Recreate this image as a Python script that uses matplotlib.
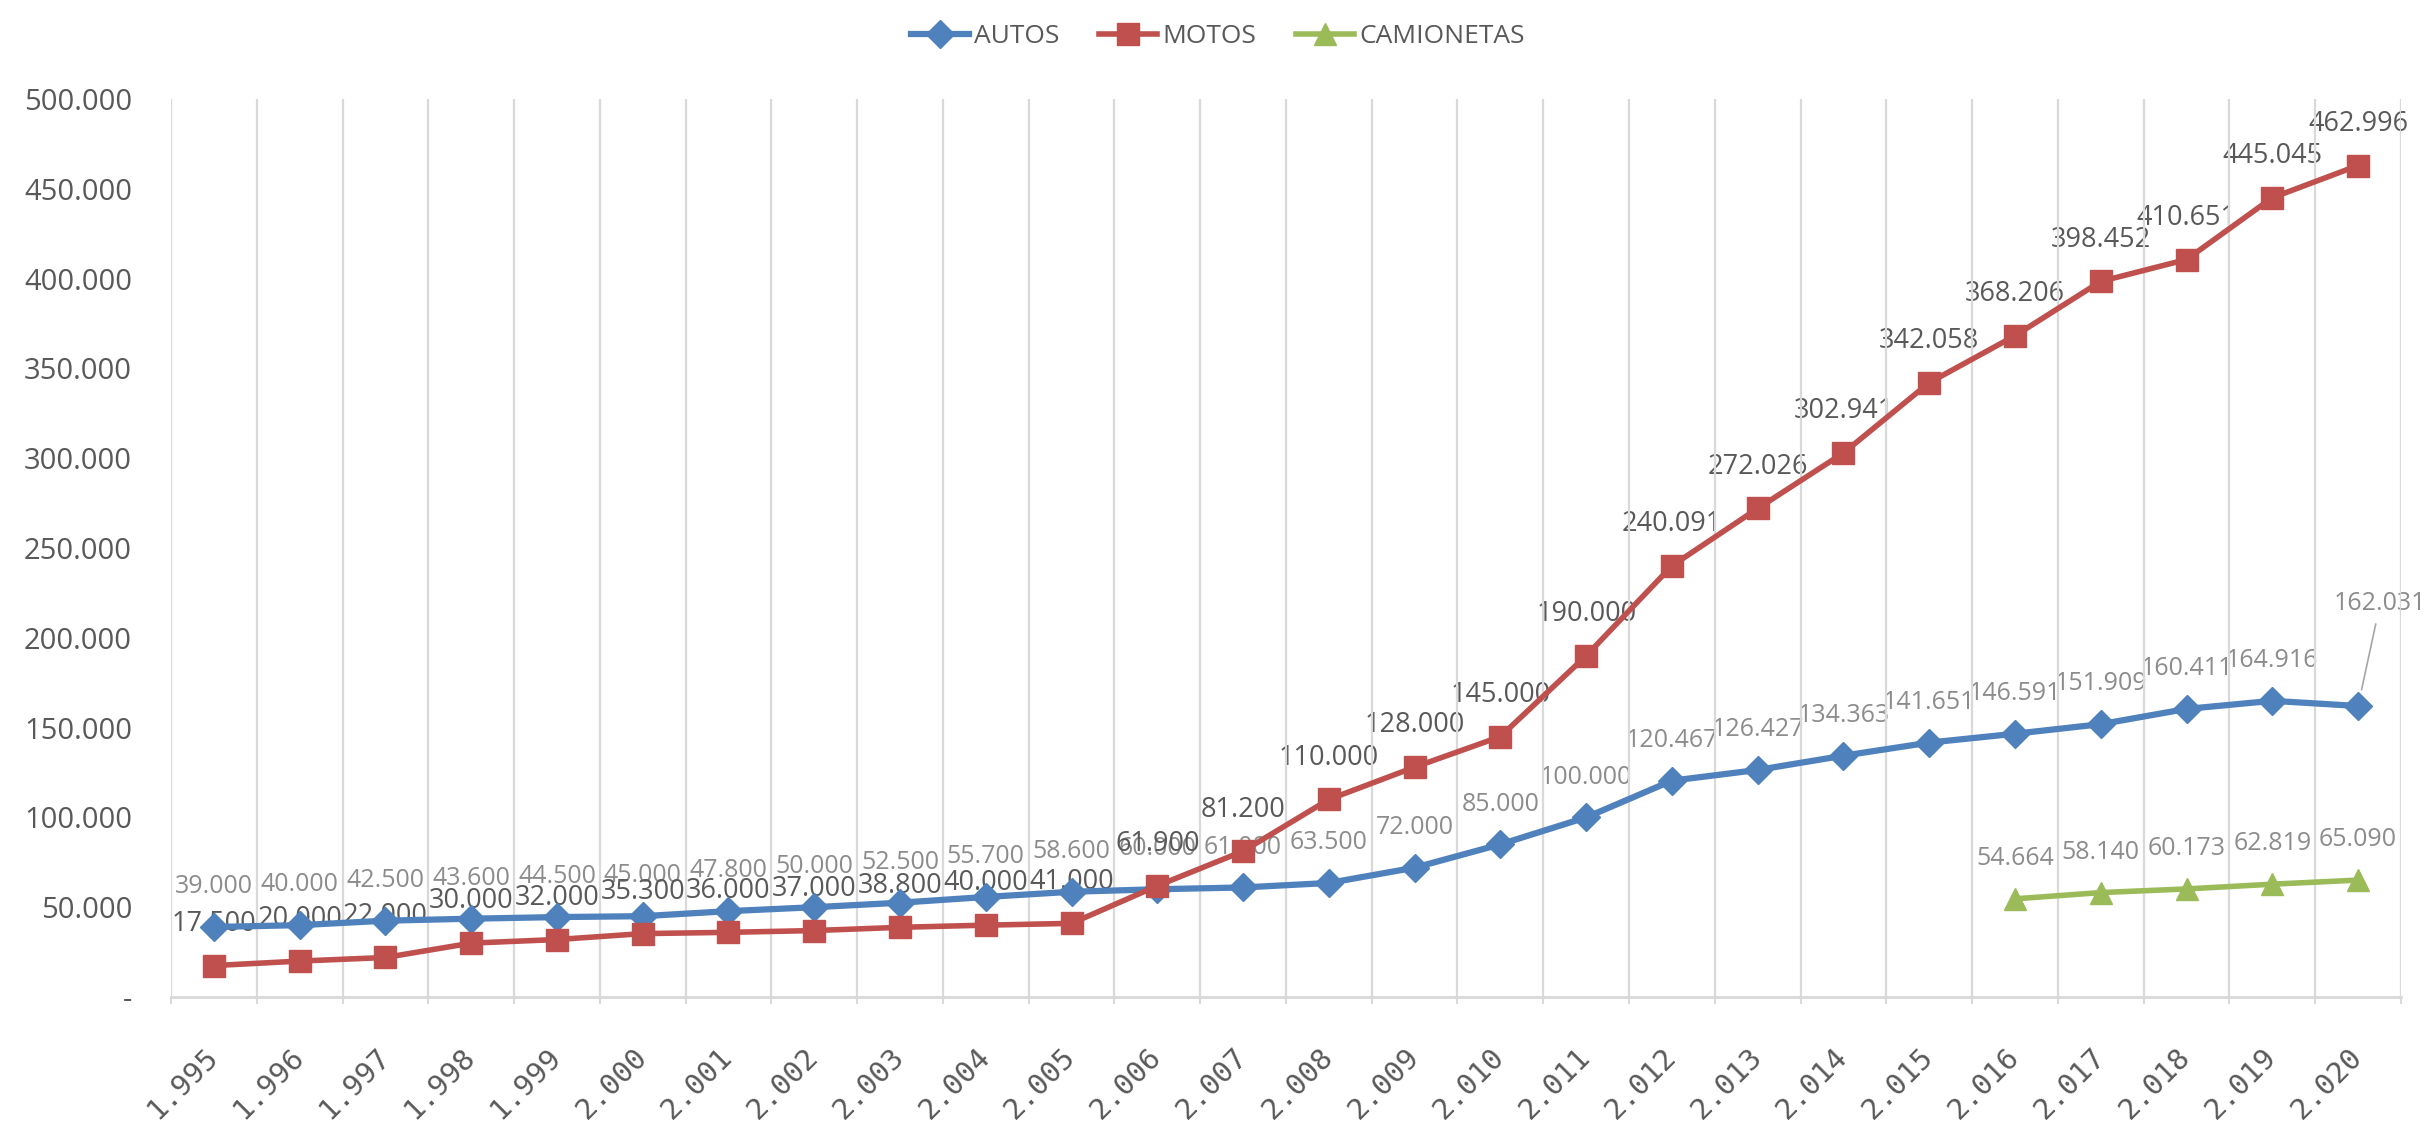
import numpy as np
import matplotlib
matplotlib.use('Agg')
import matplotlib.pyplot as plt
import matplotlib.ticker as mticker

# Series values per year
years = ['1.995', '1.996', '1.997', '1.998', '1.999', '2.000', '2.001', '2.002', '2.003',
         '2.004', '2.005', '2.006', '2.007', '2.008', '2.009', '2.010', '2.011', '2.012',
         '2.013', '2.014', '2.015', '2.016', '2.017', '2.018', '2.019', '2.020']
autos = [39000, 40000, 42500, 43600, 44500, 45000, 47800, 50000, 52500, 55700, 58600,
         60000, 61000, 63500, 72000, 85000, 100000, 120467, 126427, 134363, 141651,
         146591, 151909, 160411, 164916, 162031]
motos = [17500, 20000, 22000, 30000, 32000, 35300, 36000, 37000, 38800, 40000, 41000,
         61900, 81200, 110000, 128000, 145000, 190000, 240091, 272026, 302941, 342058,
         368206, 398452, 410651, 445045, 462996]
camionetas_years = ['2.016', '2.017', '2.018', '2.019', '2.020']
camionetas = [54664, 58140, 60173, 62819, 65090]

plt.rcParams['font.family'] = ['Open Sans', 'DejaVu Sans']

BLUE = '#4F81BD'
RED = '#C0504D'
GREEN = '#9BBB59'
GRID = '#D9D9D9'
TEXT = '#595959'
LIGHT = '#8C8C8C'


def fmt_num(v):
    return f'{int(v):,}'.replace(',', '.')


fig = plt.figure(figsize=(24.36, 11.23), dpi=100)
ax = fig.add_axes([0.0702, 0.1122, 0.9154, 0.7996])

x = np.arange(len(years))
x_cam = np.array([years.index(y) for y in camionetas_years])

ax.plot(x, autos, color=BLUE, lw=4.5, marker='D', ms=14, label='AUTOS', zorder=3)
ax.plot(x, motos, color=RED, lw=4, marker='s', ms=16, label='MOTOS', zorder=4)
ax.plot(x_cam, camionetas, color=GREEN, lw=4, marker='^', ms=16, label='CAMIONETAS', zorder=3)

# data labels
for xi, v in zip(x, autos):
    if xi == len(years) - 1:
        ax.annotate(fmt_num(v), (xi, v), xytext=(16, 74), textcoords='offset points',
                    ha='center', va='center', fontsize=18, color=LIGHT, zorder=1,
                    arrowprops=dict(arrowstyle='-', color='#A6A6A6', lw=1.2,
                                    shrinkA=4, shrinkB=12))
    else:
        ax.annotate(fmt_num(v), (xi, v), xytext=(0, 29), textcoords='offset points',
                    ha='center', va='center', fontsize=18, color=LIGHT, zorder=1)
for xi, v in zip(x, motos):
    ax.annotate(fmt_num(v), (xi, v), xytext=(0, 30), textcoords='offset points',
                ha='center', va='center', fontsize=19.5, color=TEXT, zorder=1)
for xi, v in zip(x_cam, camionetas):
    ax.annotate(fmt_num(v), (xi, v), xytext=(0, 29), textcoords='offset points',
                ha='center', va='center', fontsize=18, color=LIGHT, zorder=1)

# axes
ax.set_xlim(-0.5, len(years) - 0.5)
ax.set_ylim(0, 500000)
ax.yaxis.set_major_locator(mticker.MultipleLocator(50000))
ax.yaxis.set_major_formatter(mticker.FuncFormatter(lambda v, _: '-' if v == 0 else fmt_num(v)))
ax.set_xticks(x)
ax.set_xticklabels(years, rotation=45, ha='right', va='center', rotation_mode='anchor',
                   family='DejaVu Sans Mono')
ax.set_xticks(np.arange(-0.5, len(years)), minor=True)
ax.grid(which='minor', axis='x', color=GRID, lw=1.6)
ax.tick_params(axis='x', which='major', length=0, pad=40, labelsize=21, labelcolor=TEXT)
ax.tick_params(axis='x', which='minor', length=5, color=GRID, width=1.5)
ax.tick_params(axis='y', length=0, pad=28, labelsize=21, labelcolor=TEXT)
for s in ['top', 'left', 'right']:
    ax.spines[s].set_visible(False)
ax.spines['bottom'].set_color(GRID)
ax.spines['bottom'].set_linewidth(2)

leg = fig.legend(loc='upper center', bbox_to_anchor=(0.5, 1.0), ncol=3, frameon=False,
                 fontsize=19, handlelength=2.2, columnspacing=1.5, handletextpad=0.2)
for t in leg.get_texts():
    t.set_color(TEXT)

fig.savefig('out.png', dpi=100)
